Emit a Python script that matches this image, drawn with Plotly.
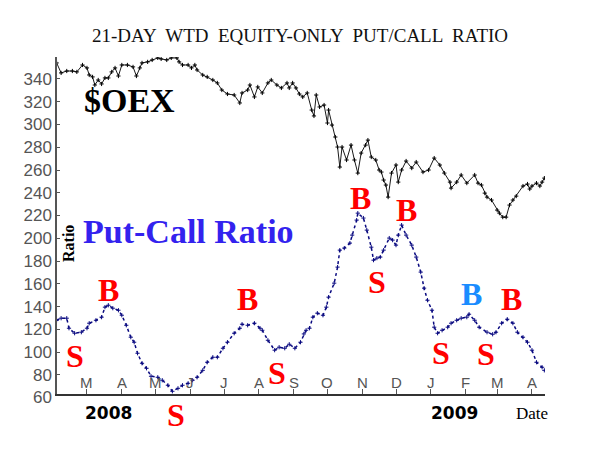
import plotly.graph_objects as go

# ---------------- data ----------------
oex_dates = [
    "2008-02-03", "2008-02-07", "2008-02-12", "2008-02-17", "2008-02-21", "2008-02-26",
    "2008-03-01", "2008-03-03", "2008-03-06", "2008-03-08", "2008-03-11", "2008-03-14",
    "2008-03-17", "2008-03-20", "2008-03-23", "2008-03-26", "2008-03-29", "2008-04-01",
    "2008-04-06", "2008-04-11", "2008-04-14", "2008-04-17", "2008-04-19", "2008-04-24",
    "2008-04-28", "2008-05-03", "2008-05-06", "2008-05-11", "2008-05-15", "2008-05-20",
    "2008-05-22", "2008-05-25", "2008-05-30", "2008-06-02", "2008-06-05", "2008-06-07",
    "2008-06-12", "2008-06-16", "2008-06-21", "2008-06-25", "2008-06-29", "2008-07-04",
    "2008-07-10", "2008-07-15", "2008-07-17", "2008-07-22", "2008-07-24", "2008-07-28",
    "2008-07-31", "2008-08-04", "2008-08-09", "2008-08-12", "2008-08-17", "2008-08-21",
    "2008-08-26", "2008-08-28", "2008-08-31", "2008-09-03", "2008-09-06", "2008-09-09",
    "2008-09-13", "2008-09-17", "2008-09-19", "2008-09-21", "2008-09-24", "2008-09-28",
    "2008-10-01", "2008-10-02", "2008-10-05", "2008-10-08", "2008-10-10", "2008-10-12",
    "2008-10-14", "2008-10-18", "2008-10-22", "2008-10-25", "2008-10-28", "2008-10-31",
    "2008-11-04", "2008-11-06", "2008-11-09", "2008-11-13", "2008-11-16", "2008-11-18",
    "2008-11-20", "2008-11-22", "2008-11-24", "2008-11-27", "2008-12-01", "2008-12-03",
    "2008-12-06", "2008-12-10", "2008-12-15", "2008-12-19", "2008-12-25", "2008-12-30",
    "2009-01-04", "2009-01-09", "2009-01-13", "2009-01-18", "2009-01-19", "2009-01-24",
    "2009-01-28", "2009-02-02", "2009-02-09", "2009-02-12", "2009-02-15", "2009-02-18",
    "2009-02-20", "2009-02-24", "2009-03-01", "2009-03-03", "2009-03-06", "2009-03-09",
    "2009-03-12", "2009-03-15", "2009-03-18", "2009-03-24", "2009-03-28", "2009-03-30",
    "2009-04-01", "2009-04-05", "2009-04-08", "2009-04-10", "2009-04-12",
]
oex_values = [
    354.1, 345.3, 347.0, 347.0, 346.2, 352.3,
    349.7, 343.5, 341.8, 334.7, 339.1, 335.6,
    340.9, 340.9, 346.2, 349.7, 342.6, 352.3,
    352.3, 350.6, 342.6, 349.7, 354.1, 355.0,
    356.7, 358.5, 357.6, 356.7, 358.5, 358.5,
    355.0, 352.3, 352.3, 349.7, 352.3, 347.9,
    343.5, 341.8, 339.1, 336.5, 330.3, 326.8,
    325.9, 318.9, 327.7, 330.3, 334.7, 324.2,
    333.0, 327.7, 336.5, 339.1, 334.7, 332.1,
    336.5, 332.1, 336.5, 332.1, 326.8, 324.2,
    327.7, 312.7, 307.5, 325.9, 315.4, 317.1,
    301.3, 312.7, 299.5, 289.0, 280.2, 262.6,
    280.2, 268.8, 281.9, 268.8, 257.3, 274.9,
    281.9, 286.3, 271.4, 268.8, 260.0, 258.2,
    251.2, 246.8, 236.2, 257.3, 264.4, 249.4,
    260.0, 267.9, 261.7, 267.0, 258.2, 260.0,
    270.5, 264.4, 257.3, 249.4, 244.1, 249.4,
    255.6, 248.5, 255.6, 248.5, 246.8, 239.7,
    236.2, 233.6, 224.8, 222.1, 218.6, 218.6,
    229.2, 233.6, 237.1, 245.9, 247.7, 243.3,
    245.9, 248.5, 245.9, 249.4, 252.9,
]

pcr_dates = [
    "2008-02-03", "2008-02-07", "2008-02-12", "2008-02-14", "2008-02-19", "2008-02-25",
    "2008-03-01", "2008-03-03", "2008-03-09", "2008-03-14", "2008-03-17", "2008-03-20",
    "2008-03-24", "2008-03-29", "2008-04-01", "2008-04-05", "2008-04-09", "2008-04-12",
    "2008-04-15", "2008-04-19", "2008-04-23", "2008-04-27", "2008-05-03", "2008-05-07",
    "2008-05-12", "2008-05-16", "2008-05-21", "2008-05-25", "2008-05-30", "2008-06-03",
    "2008-06-07", "2008-06-12", "2008-06-16", "2008-06-21", "2008-06-25", "2008-06-30",
    "2008-07-04", "2008-07-10", "2008-07-15", "2008-07-17", "2008-07-22", "2008-07-28",
    "2008-08-02", "2008-08-04", "2008-08-09", "2008-08-15", "2008-08-19", "2008-08-24",
    "2008-08-28", "2008-09-02", "2008-09-07", "2008-09-10", "2008-09-12", "2008-09-15",
    "2008-09-18", "2008-09-22", "2008-09-27", "2008-09-30", "2008-10-02", "2008-10-07",
    "2008-10-10", "2008-10-12", "2008-10-16", "2008-10-21", "2008-10-23", "2008-10-27",
    "2008-10-28", "2008-11-02", "2008-11-05", "2008-11-09", "2008-11-11", "2008-11-14",
    "2008-11-17", "2008-11-20", "2008-11-25", "2008-11-28", "2008-12-01", "2008-12-03",
    "2008-12-06", "2008-12-10", "2008-12-15", "2008-12-19", "2008-12-23", "2008-12-26",
    "2008-12-29", "2009-01-02", "2009-01-04", "2009-01-07", "2009-01-11", "2009-01-16",
    "2009-01-19", "2009-01-24", "2009-01-28", "2009-02-02", "2009-02-04", "2009-02-09",
    "2009-02-13", "2009-02-20", "2009-02-25", "2009-02-28", "2009-03-05", "2009-03-10",
    "2009-03-15", "2009-03-19", "2009-03-24", "2009-03-28", "2009-04-01", "2009-04-05",
    "2009-04-10", "2009-04-12",
]
pcr_values = [
    128.0, 129.8, 129.8, 121.0, 116.6, 117.5,
    121.0, 125.4, 128.0, 130.7, 139.5, 141.2,
    138.6, 136.8, 132.4, 123.6, 113.1, 108.7,
    99.0, 90.2, 85.8, 78.8, 77.9, 75.3,
    70.9, 65.6, 68.2, 70.9, 72.6, 75.3,
    77.9, 84.0, 91.1, 95.5, 95.5, 103.4,
    108.7, 116.6, 121.0, 124.5, 123.6, 125.4,
    121.0, 119.2, 110.4, 101.7, 104.3, 103.4,
    106.9, 103.4, 108.7, 116.0, 119.2, 121.0,
    130.7, 134.2, 132.4, 139.5, 148.3, 160.6,
    174.7, 189.6, 191.4, 195.8, 202.8, 216.0,
    222.1, 217.8, 207.2, 192.2, 180.8, 182.6,
    183.5, 189.6, 200.2, 198.4, 194.0, 202.8,
    211.6, 202.8, 194.0, 183.5, 170.3, 156.2,
    145.6, 136.8, 121.9, 116.6, 119.2, 121.9,
    125.4, 128.0, 129.8, 130.7, 133.3, 128.0,
    121.9, 117.5, 115.7, 117.5, 125.4, 128.9,
    125.4, 117.5, 113.1, 108.7, 101.7, 91.1,
    86.7, 84.0,
]

# buy / sell signal labels
signal_dates = [
    "2008-02-19", "2008-03-20", "2008-05-19", "2008-07-22", "2008-08-17", "2008-10-30",
    "2008-11-14", "2008-12-10", "2009-01-10", "2009-02-06", "2009-02-19", "2009-03-14",
]
signal_levels = [97, 155, 44.5, 146.5, 82, 235, 161.5, 225, 99, 151, 98, 146.5]
signal_texts = ["S", "B", "S", "B", "S", "B", "S", "B", "S", "B", "S", "B"]
signal_colors = ["#ff0000"] * 9 + ["#1a8cff"] + ["#ff0000"] * 2

month_ticks = [
    "2008-03-01", "2008-04-01", "2008-05-01", "2008-06-01", "2008-07-01", "2008-08-01",
    "2008-09-01", "2008-10-01", "2008-11-01", "2008-12-01", "2009-01-01", "2009-02-01",
    "2009-03-01", "2009-04-01",
]
month_labels = ["M", "A", "M", "J", "J", "A", "S", "O", "N", "D", "J", "F", "M", "A"]
y_ticks = [80, 100, 120, 140, 160, 180, 200, 220, 240, 260, 280, 300, 320, 340]

# ---------------- figure ----------------
W, H = 601, 451
ML, MR, MT, MB = 57, 56, 57, 57
PW, PH = W - ML - MR, H - MT - MB
Y_RANGE = [63.2, 359.3]


def px_to_paper(px, py):
    return (px - ML) / PW, (H - MB - py) / PH


def val_to_paper(v):
    return (v - Y_RANGE[0]) / (Y_RANGE[1] - Y_RANGE[0])


sans = "Liberation Sans"
serif = "Liberation Serif"

fig = go.Figure()

fig.add_trace(go.Scatter(
    x=oex_dates, y=oex_values, mode="lines+markers",
    line=dict(color="#1a1a1a", width=1),
    marker=dict(symbol="cross-thin", size=3, line=dict(width=1, color="#000000")),
    showlegend=False, hoverinfo="skip",
))
fig.add_trace(go.Scatter(
    x=pcr_dates, y=pcr_values, mode="lines+markers",
    line=dict(color="#0a0a80", width=1.5, dash="dot"),
    marker=dict(symbol="cross-thin", size=3, line=dict(width=1, color="#0a0a80")),
    showlegend=False, hoverinfo="skip",
))

for d, lv, t, c in zip(signal_dates, signal_levels, signal_texts, signal_colors):
    fig.add_annotation(
        x=d, y=val_to_paper(lv), xref="x", yref="paper", text="<b>%s</b>" % t,
        showarrow=False, font=dict(family=serif, size=32, color=c),
        xanchor="center", yanchor="middle",
    )

# month letters inside the plot, above the bottom axis
for d, lab in zip(month_ticks, month_labels):
    fig.add_annotation(
        x=d, y=px_to_paper(0, 382)[1], xref="x", yref="paper", text=lab,
        showarrow=False, font=dict(family=sans, size=15, color="#555555"),
        xanchor="center", yanchor="middle",
    )

annots = [
    (300, 36, "21-DAY  WTD  EQUITY-ONLY  PUT/CALL  RATIO", dict(family=serif, size=19, color="#111111"), 0),
    (129, 101, "<b>$OEX</b>", dict(family=serif, size=34, color="#000000"), 0),
    (188, 231, "<b>Put-Call Ratio</b>", dict(family=serif, size=34, color="#3322ee"), 0),
    (108, 413, "<b>2008</b>", dict(family="DejaVu Sans", size=17, color="#000000"), 0),
    (454, 413, "<b>2009</b>", dict(family="DejaVu Sans", size=17, color="#000000"), 0),
    (532, 413, "Date", dict(family=serif, size=17, color="#000000"), 0),
    (69, 244, "<b>Ratio</b>", dict(family=serif, size=16, color="#000000"), -90),
]
for px, py, text, font, ang in annots:
    xp, yp = px_to_paper(px, py)
    fig.add_annotation(x=xp, y=yp, xref="paper", yref="paper", text=text, font=font,
                       showarrow=False, textangle=ang, xanchor="center", yanchor="middle")

fig.add_annotation(x=-3 / PW, y=val_to_paper(60), xref="paper", yref="paper", text="60",
                   showarrow=False, xanchor="right", yanchor="middle",
                   font=dict(family=sans, size=17, color="#555555"))

fig.update_layout(
    width=W, height=H,
    margin=dict(l=ML, r=MR, t=MT, b=MB),
    paper_bgcolor="white", plot_bgcolor="white",
    showlegend=False,
)
fig.update_xaxes(
    type="date", range=["2008-02-03 08:00", "2009-04-12 14:00"],
    tickvals=month_ticks, showticklabels=False,
    ticks="inside", ticklen=5, tickcolor="#555555",
    showline=True, linecolor="#333333", linewidth=1.5, showgrid=False, zeroline=False,
)
fig.update_yaxes(
    range=Y_RANGE, tickvals=y_ticks,
    ticks="inside", ticklen=3, tickcolor="#555555",
    tickfont=dict(family=sans, size=17, color="#555555"),
    showline=True, linecolor="#555555", linewidth=1.5, showgrid=False, zeroline=False,
)

fig.write_html("out.html", config={"displayModeBar": False},
               post_script="document.body.style.margin='0px';")
